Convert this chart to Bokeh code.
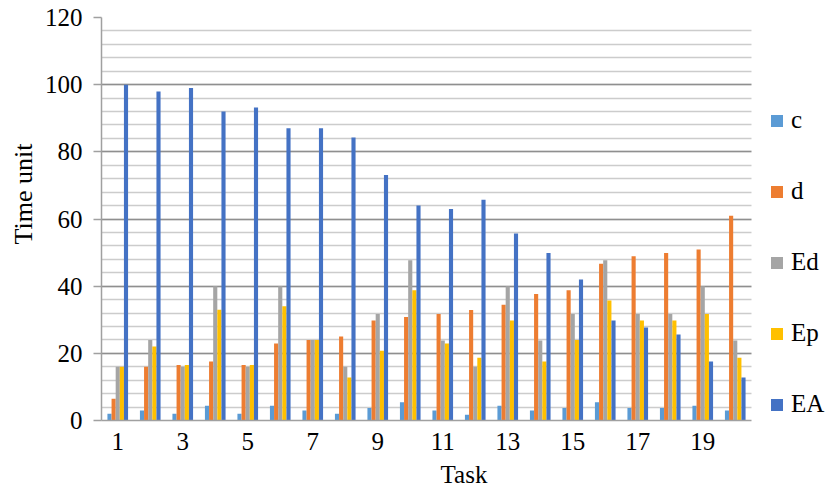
from bokeh.plotting import figure
from bokeh.models import (ColumnDataSource, FixedTicker, Range1d, Legend, LegendItem,
                          SingleIntervalTicker, BoxAnnotation, Title)
from bokeh.transform import dodge
from bokeh.embed import file_html
from bokeh.resources import INLINE

tasks = list(range(1, 21))
c  = [2, 3, 2, 4.4, 2, 4.4, 3, 2, 3.7, 5.4, 3, 1.7, 4.4, 3, 3.7, 5.4, 3.7, 3.7, 4.4, 3]
d  = [6.5, 16, 16.5, 17.6, 16.5, 22.9, 24, 25, 29.8, 30.8, 31.7, 32.9, 34.5, 37.7, 38.8, 46.7, 48.9, 49.9, 50.9, 61]
Ed = [16, 24, 16, 40, 16, 40, 24, 16, 31.7, 47.7, 23.8, 16, 40, 23.8, 31.7, 47.7, 31.7, 31.7, 40, 23.8]
Ep = [16, 22, 16.5, 33, 16.5, 34, 24, 12.8, 20.8, 38.8, 22.9, 18.7, 29.8, 17.6, 24, 35.7, 29.8, 29.8, 31.7, 18.7]
EA = [100, 98, 99, 92, 93.2, 87, 87, 84.3, 73.1, 64, 63, 65.7, 55.7, 49.9, 42, 29.8, 27.7, 25.6, 17.6, 12.8]

series = ["c", "d", "Ed", "Ep", "EA"]
colors = ["#5B9BD5", "#ED7D31", "#A5A5A5", "#FFC000", "#4472C4"]
x_ticks = [1, 3, 5, 7, 9, 11, 13, 15, 17, 19]

src = ColumnDataSource(dict(task=tasks, c=c, d=d, Ed=Ed, Ep=Ep, EA=EA))

FONT = "Liberation Serif"
FS = "25px"

W, H = 826, 496
LEFT, TOP = 101, 17
FRAME_H = 403
BOTTOM = H - TOP - FRAME_H
PLOT_W = 650                       # width of the bar area in px
FRAME_W = W - LEFT                 # frame runs to the right edge (legend lives there)
x_start, x_end_data = 0.5, 20.5
x_end = x_start + (x_end_data - x_start) * FRAME_W / PLOT_W

p = figure(width=W, height=H, output_backend="svg", toolbar_location=None,
           x_range=Range1d(x_start, x_end), y_range=Range1d(0, 120),
           min_border_left=LEFT, min_border_top=TOP, min_border_right=0,
           min_border_bottom=BOTTOM)
p.outline_line_color = None
p.background_fill_color = "white"

# grid
p.xgrid.grid_line_color = None
p.ygrid.ticker = SingleIntervalTicker(interval=20)
p.ygrid.grid_line_color = "#8f8f8f"
p.ygrid.grid_line_width = 1.5
p.ygrid.minor_grid_line_color = "#cccccc"
p.ygrid.minor_grid_line_width = 1.5

# mask gridlines in legend area
p.add_layout(BoxAnnotation(left=x_end_data, fill_color="white", fill_alpha=1.0,
                           line_color=None, level="underlay"))

bw = 0.127
renderers = []
for i, (s, col) in enumerate(zip(series, colors)):
    r = p.vbar(x=dodge("task", (i - 2) * bw, range=p.x_range), top=s, width=bw,
               source=src, fill_color=col, line_color=None)
    renderers.append(r)

# y axis
p.yaxis.ticker = SingleIntervalTicker(interval=20, num_minor_ticks=5)
p.yaxis.axis_line_color = "#a0a0a0"
p.yaxis.axis_line_width = 1.5
p.yaxis.major_tick_line_color = "#a0a0a0"
p.yaxis.major_tick_line_width = 1.5
p.yaxis.major_tick_out = 8
p.yaxis.major_tick_in = 0
p.yaxis.minor_tick_line_color = None
p.yaxis.minor_tick_out = 0
p.yaxis.minor_tick_in = 0
p.yaxis.major_label_standoff = 11

ytitle = Title(text="Time unit", align="left", offset=176, standoff=8,
               text_font=FONT, text_font_size="26px", text_font_style="normal",
               text_color="black")
p.add_layout(ytitle, "left")

# x axis
p.xaxis.ticker = FixedTicker(ticks=x_ticks)
p.xaxis.bounds = (x_start, x_end_data)
p.xaxis.axis_label = "Task"
p.xaxis.axis_line_color = "#a0a0a0"
p.xaxis.axis_line_width = 1.5
p.xaxis.major_tick_line_color = None
p.xaxis.major_tick_out = 0
p.xaxis.major_tick_in = 0
p.xaxis.minor_tick_line_color = None
p.xaxis.minor_tick_out = 0
p.xaxis.minor_tick_in = 0
p.xaxis.major_label_standoff = 12
p.xaxis.axis_label_standoff = 8

for ax in (p.xaxis[0], p.yaxis[0]):
    ax.major_label_text_font = FONT
    ax.major_label_text_font_size = FS
    ax.major_label_text_color = "black"
    ax.axis_label_text_font = FONT
    ax.axis_label_text_font_size = FS
    ax.axis_label_text_font_style = "normal"
    ax.axis_label_text_color = "black"

legend = Legend(items=[LegendItem(label=s, renderers=[r]) for s, r in zip(series, renderers)],
                location=(PLOT_W + 18, 2), orientation="vertical")
legend.border_line_color = None
legend.background_fill_alpha = 0
legend.padding = 0
legend.margin = 0
legend.glyph_width = 15
legend.glyph_height = 15
legend.label_height = 20
legend.label_standoff = 7
legend.spacing = 43
legend.label_text_font = FONT
legend.label_text_font_size = FS
legend.label_text_color = "black"
p.add_layout(legend, "center")

open("out.html", "w").write(file_html(p, INLINE))
